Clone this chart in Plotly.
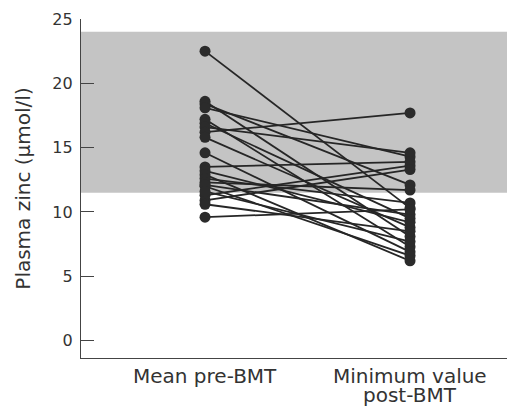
import plotly.graph_objects as go

categories = ["Mean pre-BMT", "Minimum value post-BMT"]
pre_bmt = [22.5, 18.6, 18.4, 18.1, 17.2, 16.9, 16.6, 16.2, 15.8, 14.6, 13.5,
           13.2, 12.9, 12.6, 12.3, 12.0, 12.1, 11.3, 10.9, 10.6, 9.6, 11.6]
post_bmt = [10.3, 8.1, 12.1, 14.3, 7.3, 9.5, 14.6, 17.7, 8.8, 6.9, 13.9,
            9.2, 6.2, 10.7, 11.7, 6.6, 9.8, 13.6, 13.3, 8.5, 10.2, 7.7]
normal_range = [11.5, 24.0]
y_ticks = [0, 5, 10, 15, 20, 25]

xs, ys = [], []
for a, b in zip(pre_bmt, post_bmt):
    xs += [0, 1, None]
    ys += [a, b, None]

fig = go.Figure()
fig.add_trace(go.Scatter(x=xs, y=ys, mode="lines+markers",
                         line=dict(color="#262626", width=1.8),
                         marker=dict(size=11, color="#2b2b2b"),
                         connectgaps=False, hoverinfo="skip"))

fig.add_shape(type="rect", xref="paper", yref="y", x0=0, x1=1,
              y0=normal_range[0], y1=normal_range[1],
              fillcolor="#c4c4c4", line=dict(width=0), layer="below")

font_family = "DejaVu Sans"
lab_font = dict(family=font_family, size=20, color="#333333")
fig.add_annotation(x=0, xref="x", y=-0.012, yref="paper", yanchor="top",
                   text=categories[0], showarrow=False, font=lab_font)
fig.add_annotation(x=1, xref="x", y=-0.012, yref="paper", yanchor="top",
                   text="Minimum value", showarrow=False, font=lab_font)
fig.add_annotation(x=1, xref="x", y=-0.068, yref="paper", yanchor="top",
                   text="post-BMT", showarrow=False, font=lab_font)

# page body adds an 8px offset, so the figure is sized to end at the window edge
fig.update_layout(
    width=507, height=399,
    margin=dict(l=73, r=0, t=11, b=49),
    paper_bgcolor="white", plot_bgcolor="white",
    showlegend=False,
    font=dict(family=font_family, color="#333333"),
    xaxis=dict(range=[-0.605, 1.512], showticklabels=False, ticks="",
               showgrid=False, zeroline=False, showline=True,
               linecolor="#444444", linewidth=1.2, mirror=False,
               automargin=False),
    yaxis=dict(range=[-1.35, 25], tickvals=y_ticks, ticks="inside",
               ticklen=13, tickwidth=1.2, tickcolor="#444444",
               showgrid=False, zeroline=False, showline=True,
               linecolor="#444444", linewidth=1.2,
               tickfont=dict(size=16, color="#333333"),
               ticklabelstandoff=4, automargin=False,
               title=dict(text="Plasma zinc (µmol/l)", standoff=16,
                          font=dict(size=20, color="#333333"))),
)

fig.write_html("out.html")
